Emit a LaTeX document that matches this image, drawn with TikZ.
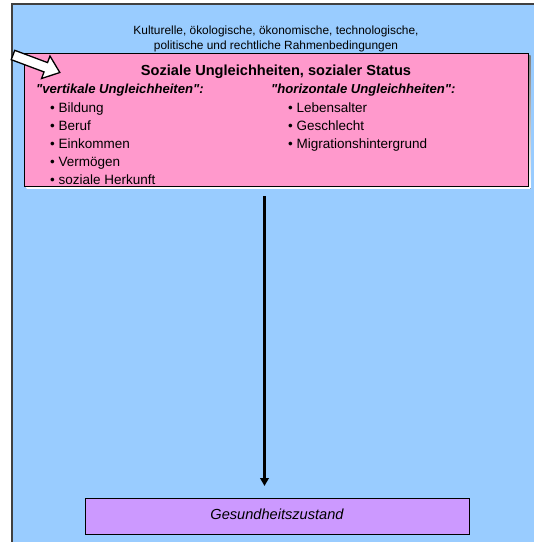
\documentclass[tikz,border=0pt]{standalone}
\usepackage{fontspec}
\setmainfont{Liberation Sans}[Ligatures=TeXOff]
\usetikzlibrary{arrows.meta}
\definecolor{bgblue}{RGB}{153,204,255}
\definecolor{boxpink}{RGB}{255,153,204}
\definecolor{boxlilac}{RGB}{204,153,255}
\definecolor{frame}{RGB}{64,64,64}
\definecolor{shade}{RGB}{80,80,104}
\tikzset{
  panel/.style={draw=black, line width=1pt, inner sep=0pt, anchor=north west},
  txt/.style={inner sep=0pt, anchor=base west, text=black},
  ctxt/.style={inner sep=0pt, anchor=base, text=black},
  toptext/.style={ctxt, font=\fontsize{11.9}{15.5}\selectfont},
  headtext/.style={txt, font=\fontsize{13.1}{16}\selectfont\bfseries\itshape},
  itemtext/.style={txt, font=\fontsize{13.5}{18}\selectfont},
  flow/.style={line width=2.2pt, -{Triangle[width=8.5pt,length=8pt]}},
}
\begin{document}
\begin{tikzpicture}[x=1pt,y=-1pt]
\useasboundingbox (0,0) rectangle (534,542);

% background panel with framed top and left edges
\node[inner sep=0pt, anchor=north west, fill=bgblue, minimum width=522pt, minimum height=538pt] (rahmen) at (12,4) {};
\draw[frame, line width=1.5pt] (rahmen.south west) -- (rahmen.north west) -- (rahmen.north east);

\node[toptext] (kontext1) at (276,34) {Kulturelle, ökologische, ökonomische, technologische,};
\node[toptext] (kontext2) at (276,49) {politische und rechtliche Rahmenbedingungen};

% status box with drop shadow
\fill[shade] (26.5,55.5) rectangle (530.5,188.5);
\node[panel, fill=boxpink, minimum width=504pt, minimum height=133pt] (status) at (24,53) {};

\node[ctxt, font=\fontsize{14.6}{17}\selectfont\bfseries] (titel) at (276,75.5) {Soziale Ungleichheiten, sozialer Status};

\node[headtext] (vert) at (36,93.5) {"vertikale Ungleichheiten":};
\node[headtext] (hori) at (271,93.5) {"horizontale Ungleichheiten":};

\node[itemtext] (v1) at (50,112) {• Bildung};
\node[itemtext] (v2) at (50,130) {• Beruf};
\node[itemtext] (v3) at (50,148) {• Einkommen};
\node[itemtext] (v4) at (50,166) {• Vermögen};
\node[itemtext] (v5) at (50,184) {• soziale Herkunft};

\node[itemtext] (h1) at (288,112) {• Lebensalter};
\node[itemtext] (h2) at (288,130) {• Geschlecht};
\node[itemtext] (h3) at (288,148) {• Migrationshintergrund};

% health outcome box
\node[panel, fill=boxlilac, minimum width=384pt, minimum height=36pt] (gesund) at (84.5,498) {};
\node[ctxt, font=\fontsize{14.6}{17}\selectfont\itshape] (gesundtxt) at (gesund.center |- 0,519.5) {Gesundheitszustand};

% causal arrow
\coordinate (pfeilA) at (264.5,196);
\coordinate (pfeilB) at (264.5,486);
\draw[flow] (pfeilA) -- (pfeilB);

% white block arrow pointing into the status box
\begin{scope}[shift={(13,55)}, rotate=-20.5]
  \draw[fill=white, line width=1.3pt, line join=miter]
    (0,-5) -- (35,-5) -- (35,-12) -- (50,0) -- (35,12) -- (35,5) -- (0,5) -- cycle;
\end{scope}
\end{tikzpicture}
\end{document}
